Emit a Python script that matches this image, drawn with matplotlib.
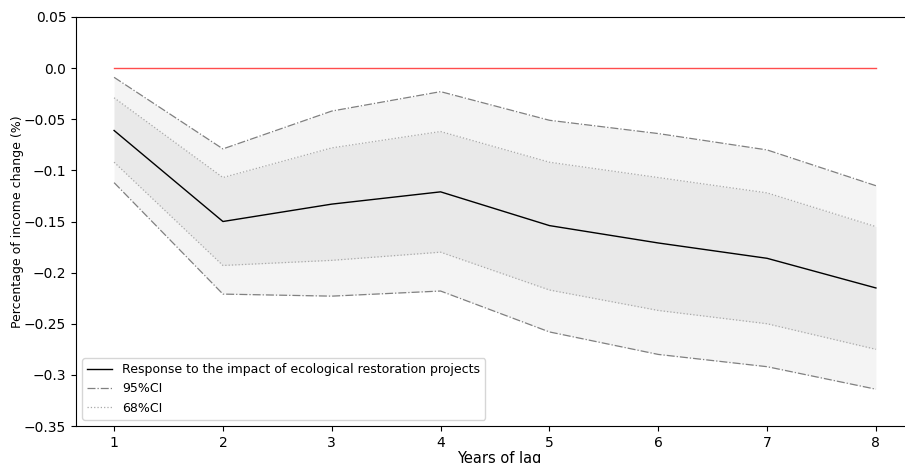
import matplotlib
matplotlib.use("Agg")
import matplotlib.pyplot as plt
import numpy as np

# years of lag
lags = [1, 2, 3, 4, 5, 6, 7, 8]

# impulse response and confidence bands
response = [-0.061, -0.150, -0.133, -0.121, -0.154, -0.171, -0.186, -0.215]
ci95_upper = [-0.009, -0.079, -0.042, -0.023, -0.051, -0.064, -0.080, -0.115]
ci95_lower = [-0.112, -0.221, -0.223, -0.218, -0.258, -0.280, -0.292, -0.314]
ci68_upper = [-0.029, -0.107, -0.078, -0.062, -0.092, -0.107, -0.122, -0.155]
ci68_lower = [-0.092, -0.193, -0.188, -0.180, -0.217, -0.237, -0.250, -0.275]
zero_line = [0, 0, 0, 0, 0, 0, 0, 0]

plt.rcParams['font.family'] = ['DejaVu Sans']
plt.rcParams['font.size'] = 10

fig = plt.figure(figsize=(9.05, 4.63), dpi=100)
# the original picture is cropped on the right, so the axes runs past the edge
ax = fig.add_axes([76 / 905, 1 - 426 / 463, (914 - 76) / 905, (426 - 17) / 463])

ax.fill_between(lags, ci95_lower, ci95_upper, color='#f4f4f4', lw=0)
ax.fill_between(lags, ci68_lower, ci68_upper, color='#e9e9e9', lw=0)

ax.plot(lags, response, color='black', lw=1.0,
        label='Response to the impact of ecological restoration projects')
ax.plot(lags, ci95_upper, color='gray', ls='-.', lw=0.9, label='95%CI')
ax.plot(lags, ci95_lower, color='gray', ls='-.', lw=0.9)
ax.plot(lags, ci68_upper, color='darkgray', ls=':', lw=0.9, label='68%CI')
ax.plot(lags, ci68_lower, color='darkgray', ls=':', lw=0.9)
ax.plot(lags, zero_line, color='red', lw=1.0, alpha=0.7)

ax.set_xlim(0.65, 8.35)
ax.set_ylim(-0.35, 0.05)
ax.set_xticks(lags)
ax.set_yticks([0.05, 0.0, -0.05, -0.1, -0.15, -0.2, -0.25, -0.3, -0.35])
ax.set_yticklabels(['0.05', '0.0', '\u22120.05', '\u22120.1', '\u22120.15', '\u22120.2',
                    '\u22120.25', '\u22120.3', '\u22120.35'])
ax.set_xlabel('Years of lag', fontsize=10.5)
ax.xaxis.set_label_coords(0.505, -0.062)
ax.set_ylabel('Percentage of income change (%)', fontsize=9)
ax.yaxis.set_label_coords(-0.062, 0.5)
ax.legend(loc='lower left', fontsize=9)

fig.savefig('out.png', dpi=100)
